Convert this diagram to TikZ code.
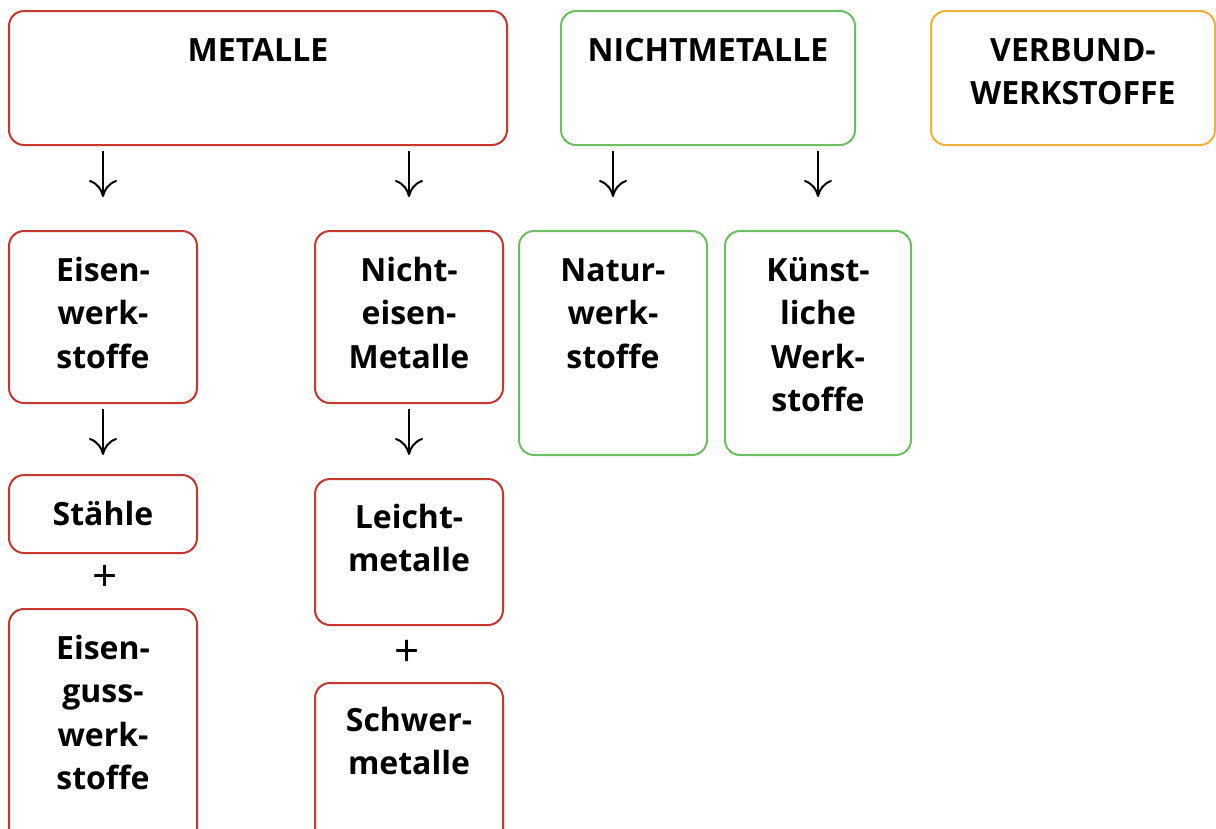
\documentclass[tikz,border=0pt]{standalone}
\usepackage{fontspec}
\setmainfont{Open Sans}
\usetikzlibrary{arrows.meta}
\definecolor{cred}{HTML}{C8372D}
\definecolor{cgreen}{HTML}{6CC062}
\definecolor{corange}{HTML}{F0B03C}
\newcommand{\fl}{\rule{0pt}{30pt}}
\tikzset{
  box/.style={draw=#1, line width=2pt, rounded corners=15pt, inner sep=0pt, fill=white},
  lbl/.style={anchor=north, inner sep=0pt, align=center, font=\fontsize{32}{43.5}\selectfont\bfseries},
  plus/.style={inner sep=0pt, font=\fontsize{44}{50}\selectfont},
  arr/.style={line width=2pt, xshift=2pt, -{Computer Modern Rightarrow[length=17pt,width=28pt,line width=2pt]}}
}
\begin{document}
\begin{tikzpicture}[x=1pt,y=-1pt]
\useasboundingbox (0,0) rectangle (1216,828);
\clip (0,0) rectangle (1216,828);
% top row
\node[box=cred, minimum width=498pt, minimum height=134pt] (metalle) at (258,78) {};
\node[box=cgreen, minimum width=294pt, minimum height=134pt] (nichtm) at (708,78) {};
\node[box=corange, minimum width=284pt, minimum height=134pt] (verbund) at (1073,78) {};
% second row
\node[box=cred, minimum width=188pt, minimum height=172pt] (eisen) at (103,317) {};
\node[box=cred, minimum width=188pt, minimum height=172pt] (ne) at (409,317) {};
\node[box=cgreen, minimum width=188pt, minimum height=224pt] (natur) at (613,343) {};
\node[box=cgreen, minimum width=186pt, minimum height=224pt] (kuenst) at (818,343) {};
% third row
\node[box=cred, minimum width=188pt, minimum height=78pt] (staehle) at (103,514) {};
\node[box=cred, minimum width=188pt, minimum height=242pt] (guss) at (103,730) {};
\node[box=cred, minimum width=188pt, minimum height=146pt] (leicht) at (409,552) {};
\node[box=cred, minimum width=188pt, minimum height=168pt] (schwer) at (409,767) {};
% labels
\node[lbl] (tmetalle) at ([yshift=-21pt]metalle.north) {\fl METALLE};
\node[lbl] (tnichtm) at ([yshift=-21pt]nichtm.north) {\fl NICHTMETALLE};
\node[lbl] (tverbund) at ([yshift=-21pt]verbund.north) {\fl VERBUND-\\WERKSTOFFE};
\node[lbl] (teisen) at ([yshift=-21pt]eisen.north) {\fl Eisen-\\werk-\\stoffe};
\node[lbl] (tne) at ([yshift=-21pt]ne.north) {\fl Nicht-\\eisen-\\Metalle};
\node[lbl] (tnatur) at ([yshift=-21pt]natur.north) {\fl Natur-\\werk-\\stoffe};
\node[lbl] (tkuenst) at ([yshift=-21pt]kuenst.north) {\fl Künst-\\liche\\Werk-\\stoffe};
\node[lbl] (tstaehle) at ([yshift=-21pt]staehle.north) {\fl Stähle};
\node[lbl] (tguss) at ([yshift=-21pt]guss.north) {\fl Eisen-\\guss-\\werk-\\stoffe};
\node[lbl] (tleicht) at ([yshift=-20pt]leicht.north) {\fl Leicht-\\metalle};
\node[lbl] (tschwer) at ([yshift=-19pt]schwer.north) {\fl Schwer-\\metalle};
% plus signs
\node[plus] (p1) at (105,578) {+};
\node[plus] (p2) at (407,653) {+};
% arrows
\draw[arr, shorten <=5pt, shorten >=33pt] (metalle.south -| eisen.north) -- (eisen.north);
\draw[arr, shorten <=5pt, shorten >=33pt] (metalle.south -| ne.north) -- (ne.north);
\draw[arr, shorten <=5pt, shorten >=33pt] (nichtm.south -| natur.north) -- (natur.north);
\draw[arr, shorten <=5pt, shorten >=33pt] (nichtm.south -| kuenst.north) -- (kuenst.north);
\draw[arr, shorten <=5pt, shorten >=19pt] (eisen.south) -- (staehle.north);
\draw[arr, shorten <=5pt, shorten >=23pt] (ne.south) -- (leicht.north);
\end{tikzpicture}
\end{document}
